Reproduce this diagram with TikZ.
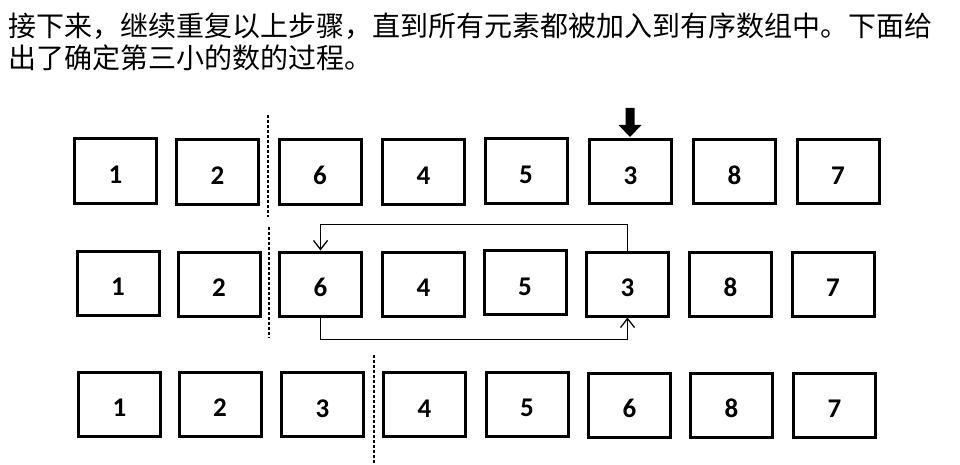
\documentclass[tikz,border=0pt]{standalone}
\usepackage{fontspec}
\setmainfont{Carlito}
\newfontfamily\cjk{Noto Sans CJK SC}
\usetikzlibrary{arrows.meta}
\begin{document}
\begin{tikzpicture}[x=1pt,y=-1pt,
  cell/.style={draw, line width=3pt, minimum width=82pt, minimum height=64pt,
    inner sep=0pt, text height=25pt, text depth=0pt,
    font=\fontsize{27}{27}\bfseries\selectfont},
  caption/.style={anchor=base west, inner sep=0pt, font=\cjk\fontsize{28}{33}\selectfont},
  sepline/.style={line width=1.4pt, dash pattern=on 3pt off 2pt},
  link/.style={line width=1.3pt, -{Straight Barb[length=9pt,width=14pt,line width=1.3pt]}},
  marker/.style={fill=black},
]
\useasboundingbox (0,0) rectangle (960,465);

% heading text
\node[caption] (line1) at (8,37) {接下来，继续重复以上步骤，直到所有元素都被加入到有序数组中。下面给};
\node[caption] (line2) at (8,69) {出了确定第三小的数的过程。};

% first row: before the step
\node[cell] (a1) at (115.5,171) {1};
\node[cell] (a2) at (217.5,172) {2};
\node[cell] (a3) at (320,172) {6};
\node[cell] (a4) at (423.5,172) {4};
\node[cell] (a5) at (526,171) {5};
\node[cell] (a6) at (630.5,171.5) {3};
\node[cell] (a7) at (734.5,171.5) {8};
\node[cell] (a8) at (838,171.5) {7};

% pointer to the smallest remaining element
\fill[marker] (625.5,108) -- (634.5,108) -- (634.5,125) -- (641.5,125)
  -- (630,137) -- (618.5,125) -- (625.5,125) -- cycle;

% second row: the swap
\node[cell] (b1) at (118,283) {1};
\node[cell] (b2) at (219,284) {2};
\node[cell] (b3) at (320.5,284) {6};
\node[cell] (b4) at (423.5,284) {4};
\node[cell] (b5) at (525,282.5) {5};
\node[cell] (b6) at (627.5,284) {3};
\node[cell] (b7) at (730.5,284) {8};
\node[cell] (b8) at (833,284) {7};

\draw[link] (b6.north) -- ++(0,-26) -| (b3.north);
\draw[link] (b3.south) -- ++(0,22) -| (b6.south);

% third row: after the step
\node[cell] (c1) at (119.5,404) {1};
\node[cell] (c2) at (220,404) {2};
\node[cell] (c3) at (322.5,404.5) {3};
\node[cell] (c4) at (424.5,404.5) {4};
\node[cell] (c5) at (527,404) {5};
\node[cell] (c6) at (629.5,405) {6};
\node[cell] (c7) at (731.5,405) {8};
\node[cell] (c8) at (834.5,405) {7};

% boundaries of the sorted part
\coordinate (s1a) at (268,115);  \coordinate (s1b) at (268,217);
\coordinate (s2a) at (269,227);  \coordinate (s2b) at (269,338);
\coordinate (s3a) at (374,355);  \coordinate (s3b) at (374,465);
\draw[sepline] (s1a) -- (s1b);
\draw[sepline] (s2a) -- (s2b);
\draw[sepline] (s3a) -- (s3b);
\end{tikzpicture}
\end{document}
